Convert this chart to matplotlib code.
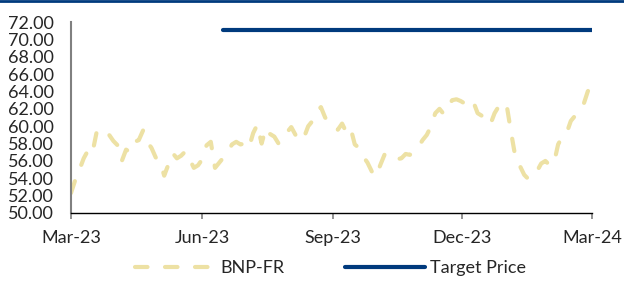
import matplotlib
matplotlib.use("Agg")
import matplotlib.pyplot as plt
import matplotlib.dates as mdates
from matplotlib.lines import Line2D
import pandas as pd

# ---- data ----
price_start = "2023-03-01"
price_end = "2024-03-01"
bnp_values = [
    52.3, 53.8, 55.0, 56.3, 57.2, 56.8, 59.2, 59.5, 58.8, 59.0,
    58.3, 57.8, 56.0, 57.3, 57.0, 58.2, 58.4, 59.5, 58.2, 57.5,
    56.4, 56.0, 54.3, 55.6, 56.9, 56.3, 56.6, 57.1, 56.2, 55.2,
    55.5, 56.2, 57.8, 58.2, 55.2, 55.8, 56.4, 57.0, 57.9, 58.2,
    57.9, 58.0, 57.5, 59.2, 60.2, 58.0, 59.8, 59.1, 58.8, 58.0,
    58.6, 59.3, 59.9, 59.0, 59.4, 58.7, 60.0, 60.6, 61.7, 62.2,
    61.0, 60.4, 60.2, 59.6, 60.3, 59.3, 59.8, 57.9, 57.5, 56.5,
    55.8, 54.8, 54.2, 55.5, 56.7, 56.9, 56.5, 56.2, 56.3, 56.8,
    56.7, 57.2, 57.6, 58.4, 59.0, 60.0, 61.5, 62.0, 61.4, 62.3,
    63.0, 63.1, 62.9, 62.6, 63.1, 62.8, 61.5, 61.2, 60.9, 60.2,
    61.5, 62.3, 62.8, 62.0, 59.0, 56.2, 55.4, 54.4, 53.9, 54.3,
    54.8, 55.7, 56.0, 55.5, 55.7, 57.9, 58.8, 59.2, 60.6, 61.2,
    61.9, 62.5, 64.0, 65.0,
]
target_dates = ["2023-06-16", "2024-03-01"]
target_values = [71.1, 71.1]
tick_dates = ["2023-03-01", "2023-06-01", "2023-09-01", "2023-12-01", "2024-03-01"]
tick_labels = ["Mar-23", "Jun-23", "Sep-23", "Dec-23", "Mar-24"]
y_ticks = [50, 52, 54, 56, 58, 60, 62, 64, 66, 68, 70, 72]

bnp_dates = pd.date_range(price_start, price_end, periods=len(bnp_values))

# ---- style ----
plt.rcParams['font.family'] = ['Lato', 'DejaVu Sans']
text_color = "#262626"
gold = "#EDE1A4"
navy = "#003A7D"

fig = plt.figure(figsize=(6.24, 2.81), dpi=100)
ax = fig.add_axes([0.1138, 0.242, 0.8349, 0.6795])

ax.plot(bnp_dates, bnp_values, color=gold, lw=3.0, dashes=(3.0, 4.2),
        dash_capstyle="round", solid_capstyle="round", label="BNP-FR")
ax.plot(pd.to_datetime(target_dates), target_values, color=navy, lw=3.0,
        solid_capstyle="round", label="Target Price")

ax.set_ylim(50, 72)
ax.set_yticks(y_ticks)
ax.set_yticklabels([f"{v:.2f}" for v in y_ticks])
ax.set_xlim(pd.Timestamp(tick_dates[0]), pd.Timestamp(tick_dates[-1]))
ax.set_xticks(pd.to_datetime(tick_dates))
ax.set_xticklabels(tick_labels)

for s in ["top", "right"]:
    ax.spines[s].set_visible(False)
ax.spines["left"].set_color("#808080")
ax.spines["left"].set_linewidth(1.5)
ax.spines["bottom"].set_color("#000000")
ax.spines["bottom"].set_linewidth(1.0)

ax.tick_params(axis="y", length=0, pad=12, labelsize=13, labelcolor=text_color)
ax.tick_params(axis="x", length=4, width=1.2, color="#808080", pad=8,
               labelsize=13, labelcolor=text_color, direction="out")

leg = fig.legend(loc="center", bbox_to_anchor=(0.53, 0.045), ncol=2, frameon=False,
                 handlelength=4.4, handletextpad=0.3, columnspacing=3.4,
                 fontsize=13, labelcolor=text_color)

fig.add_artist(Line2D([0, 1], [0.996, 0.996], transform=fig.transFigure,
                      color=navy, lw=2.0))

fig.savefig("out.png", dpi=100)
